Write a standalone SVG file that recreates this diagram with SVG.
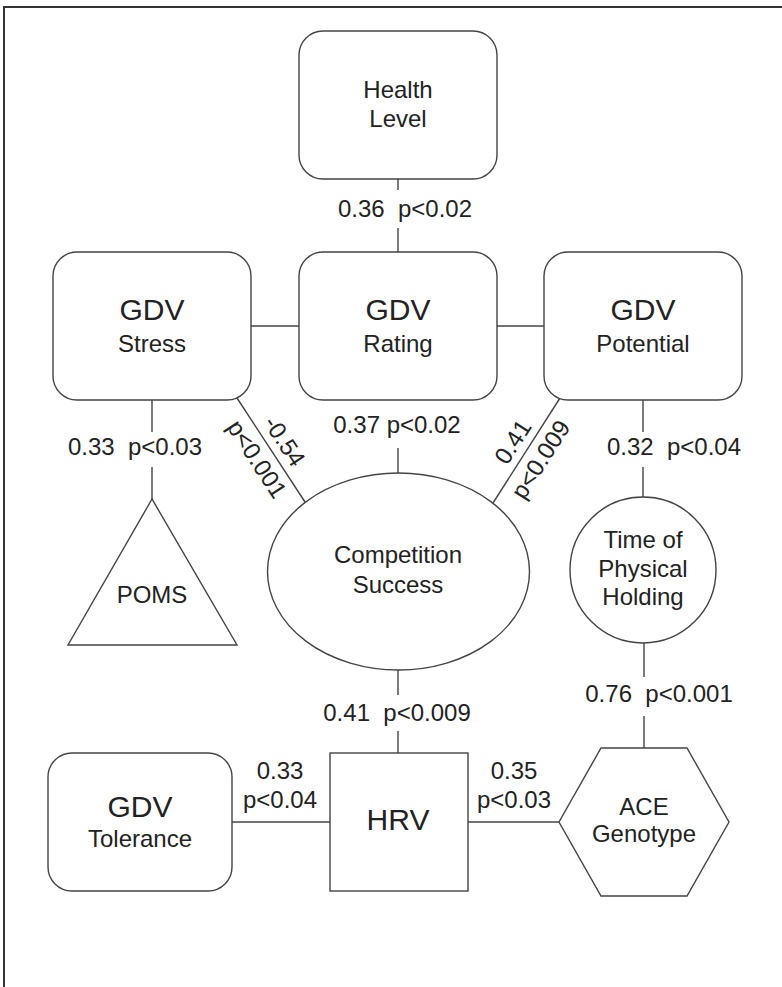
<svg xmlns="http://www.w3.org/2000/svg" width="782" height="987" viewBox="0 0 782 987">
<style>
.shape{fill:#fff;stroke:#444;stroke-width:1.4}
.ln{stroke:#444;stroke-width:1.4;fill:none}
text{font-family:"Liberation Sans",Arial,sans-serif;fill:#222;text-anchor:middle;white-space:pre}
.s{font-size:24px}
.b{font-size:30px}
</style>
<rect x="0" y="0" width="782" height="987" fill="#fff"/>
<rect x="4" y="7" width="800" height="1000" fill="none" stroke="#333" stroke-width="2"/>
<g id="connectors">
<line class="ln" x1="398" y1="179" x2="398" y2="190"/>
<line class="ln" x1="398" y1="228" x2="398" y2="252"/>
<line class="ln" x1="251" y1="326" x2="299" y2="326"/>
<line class="ln" x1="497" y1="326" x2="544" y2="326"/>
<line class="ln" x1="152" y1="400" x2="152" y2="432"/>
<line class="ln" x1="152" y1="467" x2="152" y2="499"/>
<line class="ln" x1="398" y1="448" x2="398" y2="473"/>
<line class="ln" x1="643" y1="400" x2="643" y2="432"/>
<line class="ln" x1="643" y1="467" x2="643" y2="497"/>
<line class="ln" x1="644" y1="643" x2="644" y2="677"/>
<line class="ln" x1="644" y1="716" x2="644" y2="748"/>
<line class="ln" x1="398" y1="670" x2="398" y2="695"/>
<line class="ln" x1="398" y1="731" x2="398" y2="753"/>
<line class="ln" x1="232" y1="822" x2="330" y2="822"/>
<line class="ln" x1="468" y1="822" x2="559" y2="822"/>
<line class="ln" x1="237" y1="398" x2="305" y2="502"/>
<line class="ln" x1="493" y1="503" x2="560" y2="398"/>
<text class="s" x="405" y="217" xml:space="preserve">0.36  p&lt;0.02</text>
<text class="s" x="135" y="455" xml:space="preserve">0.33  p&lt;0.03</text>
<text class="s" x="397" y="433">0.37 p&lt;0.02</text>
<text class="s" x="674" y="455" xml:space="preserve">0.32  p&lt;0.04</text>
<text class="s" x="659" y="702" xml:space="preserve">0.76  p&lt;0.001</text>
<text class="s" x="397" y="721" xml:space="preserve">0.41  p&lt;0.009</text>
<text class="s" x="280" y="779">0.33</text>
<text class="s" x="280" y="808">p&lt;0.04</text>
<text class="s" x="514" y="779">0.35</text>
<text class="s" x="514" y="808">p&lt;0.03</text>
<g transform="translate(271,450) rotate(56.8)">
<text class="s" x="0" y="-8">-0.54</text>
<text class="s" x="0" y="25">p&lt;0.001</text>
</g>
<g transform="translate(526.5,450.5) rotate(-57.5)">
<text class="s" x="0" y="-8">0.41</text>
<text class="s" x="0" y="25">p&lt;0.009</text>
</g>
</g>
<g id="health">
<rect class="shape" x="299" y="31" width="198" height="148" rx="24"/>
<text class="s" x="398" y="98">Health</text>
<text class="s" x="398" y="127">Level</text>
</g>
<g id="gdv-stress">
<rect class="shape" x="53" y="252" width="198" height="148" rx="24"/>
<text class="b" x="152" y="320">GDV</text>
<text class="s" x="152" y="352">Stress</text>
</g>
<g id="gdv-rating">
<rect class="shape" x="299" y="252" width="198" height="148" rx="24"/>
<text class="b" x="398" y="320">GDV</text>
<text class="s" x="398" y="352">Rating</text>
</g>
<g id="gdv-potential">
<rect class="shape" x="544" y="252" width="198" height="148" rx="24"/>
<text class="b" x="643" y="320">GDV</text>
<text class="s" x="643" y="352">Potential</text>
</g>
<g id="poms">
<polygon class="shape" points="152,499 68,645 237,645"/>
<text class="s" x="152" y="603">POMS</text>
</g>
<g id="competition">
<ellipse class="shape" cx="398.5" cy="571.5" rx="131" ry="98.5"/>
<text class="s" x="398" y="563">Competition</text>
<text class="s" x="398" y="593">Success</text>
</g>
<g id="time">
<circle class="shape" cx="643" cy="570" r="73"/>
<text class="s" x="643" y="548">Time of</text>
<text class="s" x="643" y="577">Physical</text>
<text class="s" x="643" y="605">Holding</text>
</g>
<g id="gdv-tolerance">
<rect class="shape" x="48" y="753" width="184" height="138" rx="24"/>
<text class="b" x="140" y="817">GDV</text>
<text class="s" x="140" y="847">Tolerance</text>
</g>
<g id="hrv">
<rect class="shape" x="330" y="753" width="138" height="138"/>
<text class="b" x="398" y="830">HRV</text>
</g>
<g id="ace">
<polygon class="shape" points="601,748 687,748 729,822 687,896 601,896 559,822"/>
<text class="s" x="644" y="815">ACE</text>
<text class="s" x="644" y="842">Genotype</text>
</g>
</svg>
